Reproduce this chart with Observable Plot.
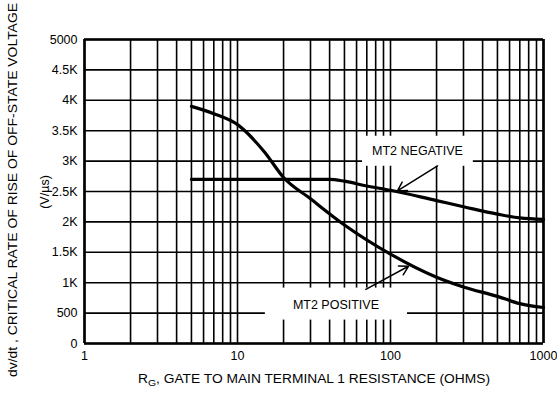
<!DOCTYPE html>
<html><head><meta charset="utf-8">
<script src="https://cdn.jsdelivr.net/npm/d3@7"></script>
<script src="https://cdn.jsdelivr.net/npm/@observablehq/plot@0.6"></script>
<style>
body{margin:0;background:#fff}
svg text{font-family:"Liberation Sans Narrow","Liberation Sans",Arial,sans-serif}
</style>
</head><body><div id="chart"></div>
<script>
// MT2 POSITIVE curve
const posX = [5, 7, 10, 15, 20, 30, 50, 100, 200, 300, 500, 700, 1000];
const posY = [3900, 3780, 3600, 3150, 2730, 2380, 1950, 1470, 1090, 930, 775, 656, 592];
// MT2 NEGATIVE curve
const negX = [5, 10, 20, 40, 50, 70, 100, 200, 300, 500, 700, 1000];
const negY = [2700, 2700, 2700, 2700, 2670, 2590, 2520, 2350, 2250, 2128, 2065, 2040];
// grid & ticks
const xGrid = [1,2,3,4,5,6,7,8,9,10,20,30,40,50,60,70,80,90,100,200,300,400,500,600,700,800,900,1000];
const xTicks = [1, 10, 100, 1000];
const xTickLabels = ["1", "10", "100", "1000"];
const yTicks = [0, 500, 1000, 1500, 2000, 2500, 3000, 3500, 4000, 4500, 5000];
const yTickLabels = ["0", "500", "1K", "1.5K", "2K", "2.5K", "3K", "3.5K", "4K", "4.5K", "5000"];
// annotations (data coordinates)
const labelText = ["MT2 NEGATIVE", "MT2 POSITIVE"];
const labelX = [150, 44];
const labelY = [3170, 640];
const arrowX1 = [203, 69], arrowY1 = [2920, 890];
const arrowX2 = [111, 131], arrowY2 = [2510, 1270];
// white knock-out padding around each label [left/right, top, bottom]
const labelPad = [[10, 8, 8], [28, 10, 8]];

const pos = posX.map((x, i) => ({x, y: posY[i]}));
const neg = negX.map((x, i) => ({x, y: negY[i]}));
const labels = labelText.map((t, i) => ({t, x: labelX[i], y: labelY[i]}));
const arrows = arrowX1.map((x1, i) => ({x1, y1: arrowY1[i], x2: arrowX2[i], y2: arrowY2[i]}));

const chart = Plot.plot({
  width: 557, height: 393,
  marginLeft: 84, marginRight: 14, marginTop: 39, marginBottom: 50,
  style: {fontSize: "12.5px", color: "#000", background: "#fff"},
  x: {type: "log", domain: [1, 1000], ticks: xTicks, tickFormat: d => xTickLabels[xTicks.indexOf(d)], tickSize: 0, tickPadding: 8, label: null},
  y: {domain: [0, 5000], ticks: yTicks, tickFormat: d => yTickLabels[yTicks.indexOf(d)], tickSize: 0, tickPadding: 7, label: null},
  marks: [
    Plot.ruleX(xGrid, {stroke: "#000", strokeWidth: 1.6}),
    Plot.ruleY(yTicks, {stroke: "#000", strokeWidth: 1.6}),
    Plot.ruleX([1, 1000], {stroke: "#000", strokeWidth: 2.6}),
    Plot.ruleY([0, 5000], {stroke: "#000", strokeWidth: 2.6}),
    Plot.text(labels, {x: "x", y: "y", text: "t", fill: "#000", fontSize: 12.5}),
    Plot.line(pos, {x: "x", y: "y", stroke: "#000", strokeWidth: 3.2, curve: "monotone-x"}),
    Plot.line(neg, {x: "x", y: "y", stroke: "#000", strokeWidth: 3.2, curve: "monotone-x"}),
    Plot.arrow(arrows, {x1: "x1", y1: "y1", x2: "x2", y2: "y2", stroke: "#000", strokeWidth: 1.5, headLength: 10})
  ]
});

document.getElementById("chart").append(chart);
const svg = d3.select(chart);

// knock out gridlines behind the curve labels
svg.selectAll("text").filter(function() { return labelText.includes(this.textContent); }).each(function() {
  const i = labelText.indexOf(this.textContent);
  const p = labelPad[i];
  const b = this.getBBox();
  const t = this.getAttribute("transform");
  const r = document.createElementNS("http://www.w3.org/2000/svg", "rect");
  r.setAttribute("x", b.x - p[0]); r.setAttribute("y", b.y - p[1]);
  r.setAttribute("width", b.width + 2 * p[0]); r.setAttribute("height", b.height + p[1] + p[2]);
  r.setAttribute("fill", "#fff");
  if (t) r.setAttribute("transform", t);
  this.parentNode.insertBefore(r, this);
});

const xl = svg.append("text").attr("x", 314).attr("y", 383).attr("text-anchor", "middle")
  .attr("font-size", 12.5).attr("fill", "#000").attr("textLength", 352).attr("lengthAdjust", "spacingAndGlyphs");
xl.append("tspan").text("R");
xl.append("tspan").attr("font-size", 9.5).attr("dy", 3).text("G");
xl.append("tspan").attr("dy", -3).text(", GATE TO MAIN TERMINAL 1 RESISTANCE (OHMS)");

svg.append("text").attr("transform", "translate(17,190) rotate(-90)").attr("text-anchor", "middle")
  .attr("font-size", 12.5).attr("fill", "#000").attr("textLength", 374).attr("lengthAdjust", "spacingAndGlyphs")
  .text("dv/dt , CRITICAL RATE OF RISE OF OFF-STATE VOLTAGE");
svg.append("text").attr("transform", "translate(49,192) rotate(-90)").attr("text-anchor", "middle")
  .attr("font-size", 12.5).attr("fill", "#000")
  .text("(V/\u00b5s)");
</script>
</body></html>
